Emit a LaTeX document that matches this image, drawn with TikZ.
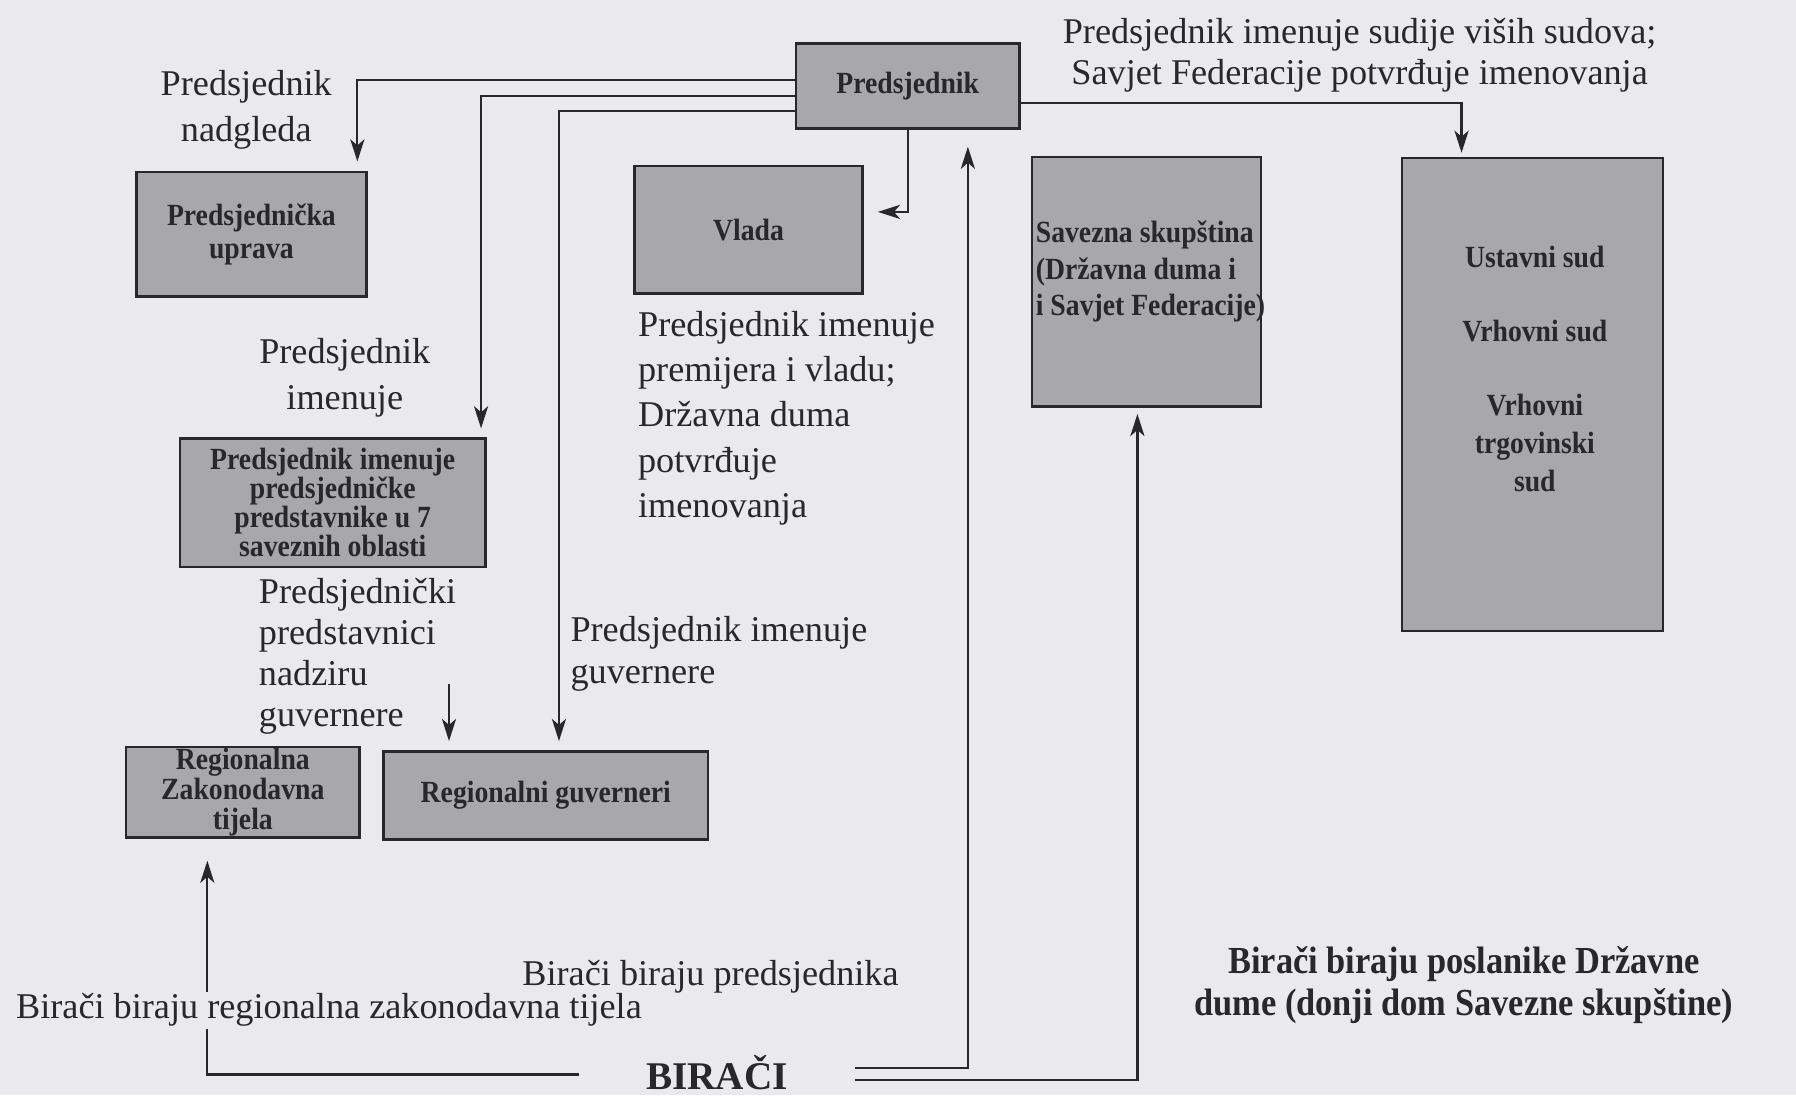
\documentclass[tikz,border=0pt]{standalone}
\usepackage{fontspec}
\setmainfont{Liberation Serif}
\newfontfamily\boxfont{Liberation Serif}[FakeStretch=0.9]
\usetikzlibrary{arrows.meta}
\definecolor{bg}{RGB}{233,233,238}
\definecolor{boxfill}{RGB}{168,168,170}
\definecolor{ink}{RGB}{40,40,42}
\begin{document}
\begin{tikzpicture}[x=0.02cm,y=-0.02cm,
  box/.style={draw=ink, line width=1.3pt, fill=boxfill, inner sep=0pt, text=ink, align=center,
    font=\boxfont\bfseries\fontsize{15.3}{15}\selectfont},
  boxtxt/.style={inner sep=0pt, text=ink, font=\boxfont\bfseries\fontsize{15.3}{18}\selectfont},
  lbl/.style={font=\fontsize{18}{22.5}\selectfont, text=ink, inner sep=1pt},
  arr/.style={draw=ink, line width=1.1pt, -{Stealth[length=11pt,width=7pt,inset=3pt]}},
  ln/.style={draw=ink, line width=1.1pt}]
\fill[bg] (0,0) rectangle (1568,956);
\useasboundingbox (0,0) rectangle (1568,956);

% boxes
\node[box, minimum width=3.9cm, minimum height=1.48cm] (pres) at (792.5,75) {Predsjednik};
\node[box, minimum width=4.02cm, minimum height=2.18cm, font=\boxfont\bfseries\fontsize{15.3}{16.5}\selectfont] (upr) at (219.5,204.5) {Predsjednička\\uprava};
\node[box, minimum width=3.98cm, minimum height=2.22cm] (vlada) at (653.5,200.5) {Vlada};
\node[box, minimum width=4cm, minimum height=4.36cm] (sav) at (1001,246) {};
\node[box, minimum width=4.56cm, minimum height=8.26cm] (courts) at (1338,344.5) {};
\node[box, minimum width=5.34cm, minimum height=2.24cm, font=\boxfont\bfseries\fontsize{15.3}{14.4}\selectfont] (pimen) at (290.5,439) {Predsjednik imenuje\\predsjedničke\\predstavnike u 7\\saveznih oblasti};
\node[box, minimum width=4.08cm, minimum height=1.58cm, font=\boxfont\bfseries\fontsize{15.3}{14.8}\selectfont] (rzt) at (212,691.5) {Regionalna\\Zakonodavna\\tijela};
\node[box, minimum width=5.66cm, minimum height=1.54cm] (rg) at (476.5,694.5) {Regionalni guverneri};

% texts inside large boxes
\node[boxtxt, anchor=west, align=left] (savt) at (904,237) {Savezna skupština\\(Državna duma i\\i Savjet Federacije)};
\node[boxtxt] (c1) at (1340,224) {Ustavni sud};
\node[boxtxt] (c2) at (1340,289) {Vrhovni sud};
\node[boxtxt, align=center, font=\boxfont\bfseries\fontsize{15.3}{18.8}\selectfont] (c3) at (1340,387) {Vrhovni\\trgovinski\\sud};

% labels
\node[lbl, align=center] (l1) at (215,96) {Predsjednik\\nadgleda};
\node[lbl, align=center, font=\fontsize{18}{20.5}\selectfont] (l2) at (1187,48) {Predsjednik imenuje sudije viših sudova;\\Savjet Federacije potvrđuje imenovanja};
\node[lbl, align=center, font=\fontsize{18}{22.8}\selectfont] (l3) at (301,330) {Predsjednik\\imenuje};
\node[lbl, align=left, anchor=west] (l4) at (555,365) {Predsjednik imenuje\\premijera i vladu;\\Državna duma\\potvrđuje\\imenovanja};
\node[lbl, align=left, anchor=west, font=\fontsize{18}{20.3}\selectfont] (l5) at (224,573) {Predsjednički\\predstavnici\\nadziru\\guvernere};
\node[lbl, align=left, anchor=west, font=\fontsize{18}{21}\selectfont] (l6) at (496,571) {Predsjednik imenuje\\guvernere};
\node[lbl, anchor=west] (l7) at (454,853) {Birači biraju predsjednika};
\node[lbl, font=\bfseries\fontsize{19.5}{22}\selectfont, inner xsep=33pt, inner ysep=0pt, anchor=base] (birac) at (626,951) {BIRAČI};
\node[boxtxt, align=center, font=\boxfont\bfseries\fontsize{19}{20.5}\selectfont] (l9) at (1278,860) {Birači biraju poslanike Državne\\dume (donji dom Savezne skupštine)};

% connectors from Predsjednik
\draw[arr, shorten >=4.5pt] (pres.west |- 0,70) -| (upr.north -| 312,0);
\draw[arr, shorten >=4.5pt] (pres.west |- 0,84) -| (pimen.north -| 420,0);
\draw[arr, shorten >=4.5pt] (pres.west |- 0,97) -| (rg.north -| 488,0);
\draw[arr, shorten >=7pt] (pres.south -| 793,0) |- (vlada.east |- 0,185);
\draw[arr, shorten >=2pt] (pres.east |- 0,90) -| (courts.north -| 1276,0);

% predstavnici -> guverneri
\coordinate (pa) at (392,597);
\draw[arr, shorten >=4.5pt] (pa) -- (rg.north -| pa);

% connectors from Biraci
\draw[arr, shorten >=8.5pt] (birac.east |- 0,932.5) -| (pres.south -| 845,0);
\draw[arr, shorten >=3pt] (birac.east |- 0,943) -| (sav.south -| 993,0);
\draw[arr, shorten >=11pt] (birac.west |- 0,938) -| (rzt.south -| 181,0);
% label drawn over the line it interrupts
\node[lbl, anchor=west, fill=bg] (l8) at (12,882) {Birači biraju regionalna zakonodavna tijela};
\end{tikzpicture}
\end{document}
